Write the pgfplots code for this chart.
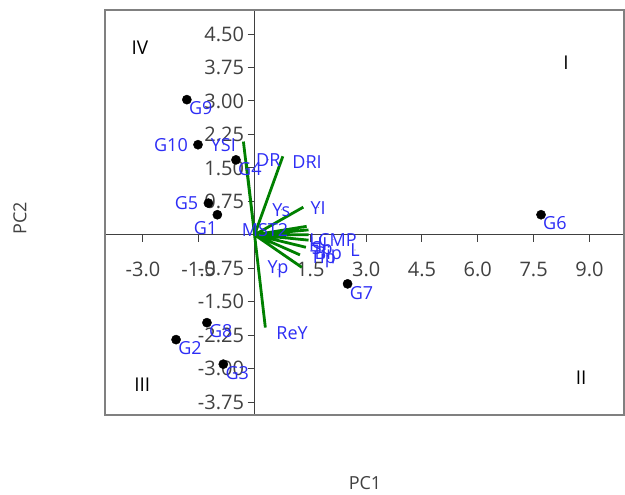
\documentclass[border=0pt]{standalone}
\usepackage{fontspec}
\setmainfont{Open Sans}
\usepackage{pgfplots}
\pgfplotsset{compat=1.18}
\usepackage{pgfplotstable}
\definecolor{lblblue}{RGB}{45,45,245}
\definecolor{vecgreen}{RGB}{0,128,0}
\definecolor{framegray}{RGB}{128,128,128}
\definecolor{axgray}{RGB}{64,64,64}

% points labelled lower right
\pgfplotstableread{
x y name
-1.82 3.03 G9
-0.50 1.68 G4
7.70 0.45 G6
2.50 -1.10 G7
-1.28 -1.97 G8
-2.11 -2.35 G2
-0.84 -2.90 G3
}\pointsSE
% points labelled left
\pgfplotstableread{
x y name
-1.52 2.02 G10
-1.24 0.71 G5
}\pointsW
% points labelled lower left
\pgfplotstableread{
x y name
-1.00 0.45 G1
}\pointsSW

\pgfplotstableread{
x y name
-0.84 2.02 YSI
0.37 1.68 DR
1.41 1.64 DRI
0.72 0.56 Ys
1.71 0.61 YI
0.28 0.11 MST2
2.11 -0.11 LCMP
1.71 -0.20 HI
1.82 -0.34 Sp
1.98 -0.45 Bip
1.84 -0.54 Tip
2.70 -0.34 L
0.63 -0.78 Yp
1.01 -2.20 ReY
}\veclabels

\pgfplotsset{
  ptlbl/.style={only marks, mark=*, mark size=4.6bp, mark options={fill=black, draw=black},
    nodes near coords, point meta=explicit symbolic,
    every node near coord/.append style={anchor=#1, inner sep=2bp, font=\fontsize{18bp}{20bp}\selectfont, text=lblblue}},
}

\begin{document}
\begin{tikzpicture}
\path[use as bounding box] (-105bp,-80bp) rectangle (520bp,415bp);
\begin{axis}[
  at={(0,0)}, anchor=south west,
  scale only axis, width=519bp, height=405bp,
  xmin=-4.02, xmax=9.93, ymin=-4.04, ymax=5.04,
  axis lines=middle,
  axis line style={axgray, line width=1.3bp, -},
  xtick={-3,-1.5,1.5,3,4.5,6,7.5,9},
  ytick={-3.75,-3,-2.25,-1.5,-0.75,0.75,1.5,2.25,3,3.75,4.5},
  tick align=outside,
  major tick length=7bp,
  tick style={axgray, line width=1bp},
  x tick label style={yshift=-17bp, /pgf/number format/.cd, fixed, fixed zerofill, precision=1, assume math mode=true},
  y tick label style={/pgf/number format/.cd, fixed, fixed zerofill, precision=2, assume math mode=true},
  tick label style={font=\fontsize{20bp}{22bp}\selectfont, text=axgray},
  clip=false,
]
% vectors
\addplot[vecgreen, line width=2.8bp, unbounded coords=jump, line cap=butt] coordinates {
 (0,0) (-0.30,2.09) (nan,nan)
 (0,0) (-0.22,1.60) (nan,nan)
 (0,0) (0.76,1.76) (nan,nan)
 (0,0) (1.31,0.62) (nan,nan)
 (0,0) (0.55,0.26) (nan,nan)
 (0,0) (1.40,0.19) (nan,nan)
 (0,0) (1.45,0.11) (nan,nan)
 (0,0) (1.45,0.00) (nan,nan)
 (0,0) (1.45,-0.12) (nan,nan)
 (0,0) (1.38,-0.28) (nan,nan)
 (0,0) (1.22,-0.45) (nan,nan)
 (0,0) (1.27,-0.73) (nan,nan)
 (0,0) (0.29,-2.08)
};
% points
\addplot[ptlbl=north west] table[x=x, y=y, meta=name] {\pointsSE};
\addplot[ptlbl=east, every node near coord/.append style={xshift=-8bp}] table[x=x, y=y, meta=name] {\pointsW};
\addplot[ptlbl=north east, every node near coord/.append style={yshift=-5bp, xshift=2bp}] table[x=x, y=y, meta=name] {\pointsSW};
% vector labels
\addplot[only marks, mark=*, mark size=0.1bp, mark options={draw=none, fill=none},
  nodes near coords, point meta=explicit symbolic,
  every node near coord/.append style={anchor=center, inner sep=0bp, font=\fontsize{18bp}{20bp}\selectfont, text=lblblue}]
  table[x=x, y=y, meta=name] {\veclabels};
% quadrant labels
\node[font=\fontsize{19bp}{21bp}\selectfont] at (axis cs:-3.08,4.19) {IV};
\node[font=\fontsize{19bp}{21bp}\selectfont] at (axis cs:8.37,3.86) {I};
\node[font=\fontsize{19bp}{21bp}\selectfont] at (axis cs:-3.02,-3.36) {III};
\node[font=\fontsize{19bp}{21bp}\selectfont] at (axis cs:8.78,-3.21) {II};
% frame
\draw[framegray, line width=2bp] (rel axis cs:0,0) rectangle (rel axis cs:1,1);
% axis titles
\node[font=\fontsize{18bp}{20bp}\selectfont, text=axgray] at (rel axis cs:0.501,-0.168) {PC1};
\node[font=\fontsize{18bp}{20bp}\selectfont, text=axgray, rotate=90] at (rel axis cs:-0.164,0.486) {PC2};
\end{axis}
\end{tikzpicture}
\end{document}
